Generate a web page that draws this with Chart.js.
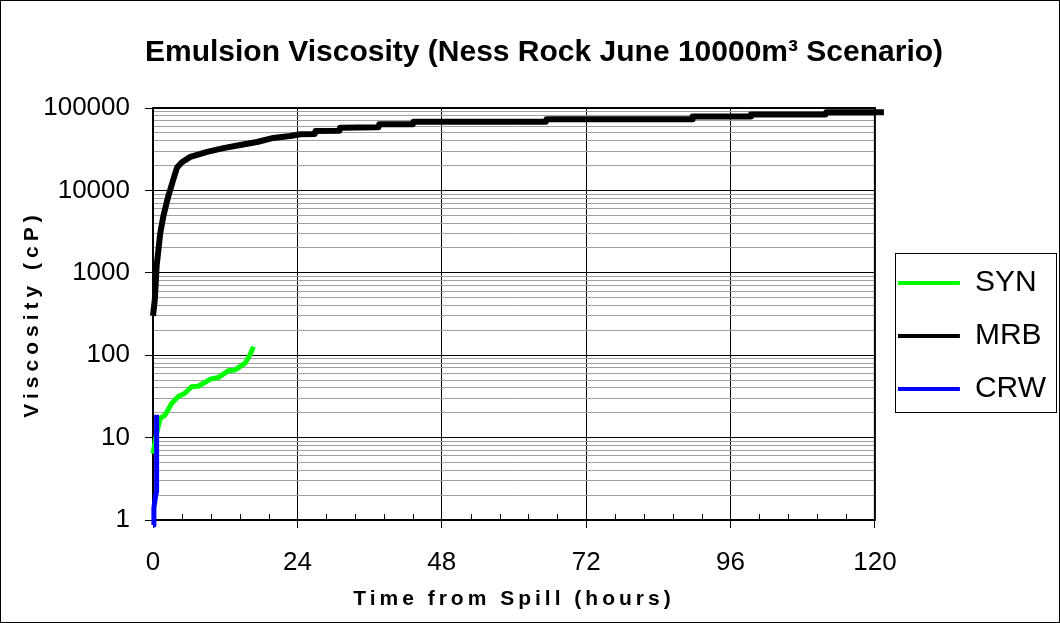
<!DOCTYPE html>
<html>
<head>
<meta charset="utf-8">
<script src="https://cdn.jsdelivr.net/npm/chart.js@4.4.1/dist/chart.umd.min.js"></script>
<style>
  html, body { margin: 0; padding: 0; background: #fff; }
  #wrap { width: 1060px; height: 623px; }
</style>
</head>
<body>
<div id="wrap"><canvas id="myChart" width="1060" height="623"></canvas></div>
<script>
  // values (time in hours, viscosity in cP)
  var seriesNames = ['SYN', 'MRB', 'CRW'];

  var synTime = [0, 0.6, 1.2, 2.0, 3.1, 4.2, 5.3, 6.4, 7.5, 9.5, 10.9, 12.5, 13.6, 15.3, 16.1, 16.7];
  var synVisc = [6.4, 11.3, 17.1, 18.8, 26, 31.5, 34.5, 41.4, 42, 51, 53.8, 64.6, 66, 80, 100, 127];

  var mrbTime = [0, 0.3, 0.6, 1.2, 1.7, 2.5, 3.2, 4.0, 4.8, 6.2, 9.0, 11.7, 14.5, 17.3, 20.0, 22.8, 24.5,
                 26.9, 27.0, 31.0, 31.1, 37.5, 37.6, 43.2, 43.3, 65.3, 65.4, 89.6, 89.7, 99.3, 99.4, 111.8, 111.9, 121.5];
  var mrbVisc = [300, 470, 1200, 3000, 4800, 8300, 12300, 19000, 22000, 25500, 29300, 32600, 35600, 38700, 43300, 45700, 48000,
                 48500, 52500, 53000, 57700, 58500, 63300, 63500, 68300, 68300, 72900, 72900, 78600, 78600, 83600, 83600, 89000, 89000];

  var crwTime = [0, 0.15, 0.45, 0.6, 0.6];
  var crwVisc = [0.87, 1.4, 2.0, 2.2, 19];

  var xTicks = [0, 24, 48, 72, 96, 120];
  var yTicks = [1, 10, 100, 1000, 10000, 100000];

  function pts(t, v) {
    return t.map(function (x, i) { return { x: x, y: v[i] }; });
  }

  // minor ticks: 5 steps per 24 h on x, 1..9 per decade on y
  var xAll = [];
  for (var i = 0; i <= 25; i++) xAll.push(i * 24 / 5);
  var yAll = [];
  yTicks.slice(0, -1).forEach(function (d) {
    for (var k = 1; k <= 9; k++) yAll.push(d * k);
  });
  yAll.push(yTicks[yTicks.length - 1]);

  function isMajorX(v) { return xTicks.indexOf(v) >= 0; }
  function isMajorY(v) { return yTicks.indexOf(v) >= 0; }

  Chart.defaults.font.family = '"Liberation Sans", Arial, sans-serif';
  Chart.defaults.color = '#000';

  // letter-spaced axis titles, plot frame, inner minor ticks, legend box, outer border
  var extras = {
    id: 'extras',
    beforeDraw: function (chart) {
      [['x', '4px'], ['y', '5px']].forEach(function (p) {
        var s = chart.scales[p[0]];
        if (s._spaced) return;
        var orig = s.drawTitle;
        s.drawTitle = function () {
          this.ctx.save();
          this.ctx.letterSpacing = p[1];
          orig.call(this);
          this.ctx.restore();
        };
        s._spaced = true;
      });
    },
    beforeDatasetsDraw: function (chart) {
      var a = chart.chartArea, c = chart.ctx, xs = chart.scales.x;
      c.save();
      c.strokeStyle = '#000';
      c.lineWidth = 1;
      c.beginPath();
      xs.ticks.forEach(function (t) {
        if (isMajorX(t.value)) return;
        var px = Math.round(xs.getPixelForValue(t.value)) + 0.5;
        c.moveTo(px, a.bottom);
        c.lineTo(px, a.bottom - 6);
      });
      c.stroke();
      c.lineWidth = 2;
      c.strokeRect(a.left, a.top, a.right - a.left, a.bottom - a.top);
      c.restore();
    },
    afterDraw: function (chart) {
      var c = chart.ctx, a = chart.chartArea, hb = chart.legend.legendHitBoxes;
      c.save();
      c.strokeStyle = '#000';
      c.lineWidth = 1;
      if (hb && hb.length) {
        var last = hb[hb.length - 1];
        var top = Math.round(hb[0].top - 15);
        var bottom = Math.round(last.top + last.height + 8);
        var left = Math.round(a.right + 20);
        c.strokeRect(left + 0.5, top + 0.5, chart.width - 4 - left, bottom - top);
      }
      c.strokeRect(0.5, 0.5, chart.width - 1, chart.height - 1);
      c.restore();
    }
  };

  var ctx = document.getElementById('myChart');

  new Chart(ctx, {
    type: 'line',
    data: {
      datasets: [{
        label: seriesNames[0],
        data: pts(synTime, synVisc),
        borderColor: '#00ff00',
        backgroundColor: '#00ff00',
        borderWidth: 5,
        order: 1
      },
      {
        label: seriesNames[1],
        data: pts(mrbTime, mrbVisc),
        borderColor: '#000000',
        backgroundColor: '#000000',
        borderWidth: 6,
        order: 2
      },
      {
        label: seriesNames[2],
        data: pts(crwTime, crwVisc),
        borderColor: '#0000ff',
        backgroundColor: '#0000ff',
        borderWidth: 5,
        order: 0
      }]
    },
    options: {
      responsive: false,
      animation: false,
      layout: { padding: { left: 32, right: 4, top: 0, bottom: 0 } },
      elements: {
        point: { radius: 0 },
        line: { tension: 0, borderJoinStyle: 'round', fill: false }
      },
      datasets: { line: { clip: false } },
      plugins: {
        title: {
          display: true,
          text: 'Emulsion Viscosity (Ness Rock June 10000m³ Scenario)',
          font: { size: 30, weight: 'bold' },
          color: '#000',
          padding: { top: 35, bottom: 37 }
        },
        legend: {
          position: 'right',
          title: { display: true, text: ' ', font: { size: 12 }, padding: { top: 0, bottom: 34.6 } },
          labels: {
            font: { size: 30 },
            color: '#000',
            usePointStyle: true,
            pointStyle: 'line',
            pointStyleWidth: 62,
            padding: 23,
            sort: function (a, b) { return a.datasetIndex - b.datasetIndex; },
            generateLabels: function (chart) {
              return Chart.defaults.plugins.legend.labels.generateLabels(chart).map(function (l) {
                l.lineWidth = 4;
                return l;
              });
            }
          }
        },
        tooltip: { enabled: false }
      },
      scales: {
        x: {
          type: 'linear',
          min: 0,
          max: 120,
          afterBuildTicks: function (s) { s.ticks = xAll.map(function (v) { return { value: v }; }); },
          afterFit: function (s) { s.height = 103; },
          border: { display: false },
          grid: {
            color: function (c) { return isMajorX(c.tick.value) ? '#000' : 'rgba(0,0,0,0)'; },
            tickColor: function (c) { return isMajorX(c.tick.value) ? '#000' : 'rgba(0,0,0,0)'; },
            tickLength: 8,
            lineWidth: 1
          },
          ticks: {
            autoSkip: false,
            maxRotation: 0,
            padding: 19,
            font: { size: 26 },
            color: '#000',
            callback: function (v) { return isMajorX(v) ? String(v) : ''; }
          },
          title: {
            display: true,
            text: 'Time from Spill (hours)',
            font: { size: 21, weight: 'bold' },
            color: '#000',
            padding: { top: 0, bottom: 11 }
          }
        },
        y: {
          type: 'logarithmic',
          min: 1,
          max: 100000,
          afterBuildTicks: function (s) { s.ticks = yAll.map(function (v) { return { value: v }; }); },
          afterFit: function (s) { s.width = 121; },
          border: { display: false },
          grid: {
            color: function (c) { return isMajorY(c.tick.value) ? '#000' : '#a0a0a0'; },
            tickColor: function (c) { return isMajorY(c.tick.value) ? '#000' : 'rgba(0,0,0,0)'; },
            tickLength: 8,
            lineWidth: 1
          },
          ticks: {
            autoSkip: false,
            padding: 15,
            font: { size: 26 },
            color: '#000',
            callback: function (v) { return isMajorY(v) ? String(v) : ''; }
          },
          title: {
            display: true,
            text: 'Viscosity (cP)',
            font: { size: 21, weight: 'bold' },
            color: '#000',
            padding: { top: -12, bottom: 0 }
          }
        }
      }
    },
    plugins: [extras]
  });
</script>
</body>
</html>
